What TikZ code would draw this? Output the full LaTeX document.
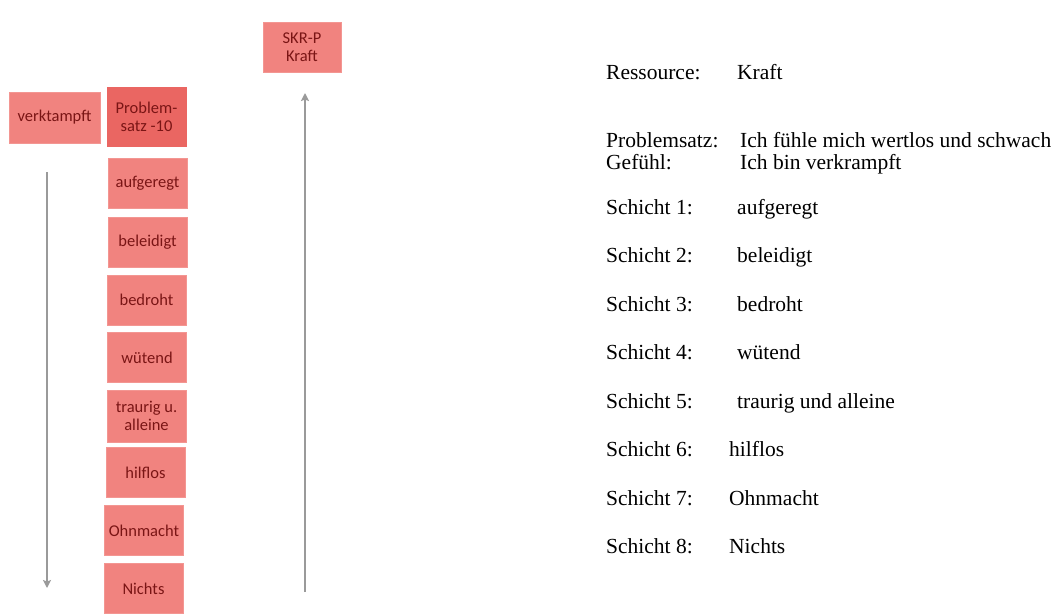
\documentclass[tikz,border=0pt]{standalone}
\usepackage{fontspec}
\setmainfont{Liberation Serif}
\newfontfamily\boxfont{Carlito}
\usetikzlibrary{arrows.meta}
\definecolor{boxfill}{HTML}{F1837F}
\definecolor{probfill}{HTML}{EA6662}
\definecolor{boxtext}{HTML}{7A1515}
\definecolor{arrowgray}{HTML}{9A9A9A}
\tikzset{
  layer/.style={fill=boxfill, draw=boxfill!85!white, line width=0.6pt, inner sep=1pt,
    minimum width=79pt, minimum height=50pt, align=center, text=boxtext,
    font=\boxfont\fontsize{16.5}{18}\selectfont},
  info/.style={anchor=base west, inner sep=0pt, font=\fontsize{21.5}{24}\selectfont},
  flow/.style={draw=arrowgray, line width=2pt, -{Stealth[length=8pt,width=8pt,inset=1.5pt]}}
}
\begin{document}
\begin{tikzpicture}[x=1pt,y=-1pt]
\useasboundingbox (0,0) rectangle (1063,614);
% left column
\node[layer, minimum width=91pt, minimum height=51pt] (verk) at (54.5,117.5) {verktampft};
\node[layer, fill=probfill, draw=probfill, minimum height=59pt] (prob) at (146.5,116.5) {Problem-\\satz -10};
\fill[white] ([xshift=-12pt]prob.north) -- ([xshift=12pt]prob.north) -- ([yshift=10pt]prob.north) -- cycle;
\node[layer] (s1) at (147.5,183) {aufgeregt};
\node[layer] (s2) at (147.5,242.5) {beleidigt};
\node[layer] (s3) at (146.5,300) {bedroht};
\node[layer] (s4) at (147,357.5) {wütend};
\node[layer, minimum height=52pt] (s5) at (146.5,416) {traurig u.\\alleine};
\node[layer] (s6) at (145.5,472.5) {hilflos};
\node[layer] (s7) at (144,530.5) {Ohnmacht};
\node[layer] (s8) at (143.5,588.5) {Nichts};
\node[layer, minimum width=78pt] (skr) at (302,47) {SKR-P\\Kraft};
% arrows
\coordinate (dtop) at (47,172);
\coordinate (dbot) at (47,588);
\coordinate (utop) at (305,93);
\coordinate (ubot) at (305,592);
\draw[flow] (dtop) -- (dbot);
\draw[flow] (ubot) -- (utop);
% right text
\node[info] (rl) at (606,79) {Ressource:};
\node[info] (rv) at (737,79) {Kraft};
\node[info] (pl) at (606,147) {Problemsatz:};
\node[info] (pv) at (740,147) {Ich fühle mich wertlos und schwach};
\node[info] (gl) at (606,169) {Gefühl:};
\node[info] (gv) at (740,169) {Ich bin verkrampft};
\node[info] (l1) at (606,214) {Schicht 1:};
\node[info] (v1) at (737,214) {aufgeregt};
\node[info] (l2) at (606,262.5) {Schicht 2:};
\node[info] (v2) at (737,262.5) {beleidigt};
\node[info] (l3) at (606,311) {Schicht 3:};
\node[info] (v3) at (737,311) {bedroht};
\node[info] (l4) at (606,359.5) {Schicht 4:};
\node[info] (v4) at (737,359.5) {wütend};
\node[info] (l5) at (606,408) {Schicht 5:};
\node[info] (v5) at (737,408) {traurig und alleine};
\node[info] (l6) at (606,456.5) {Schicht 6:};
\node[info] (v6) at (729,456.5) {hilflos};
\node[info] (l7) at (606,505) {Schicht 7:};
\node[info] (v7) at (729,505) {Ohnmacht};
\node[info] (l8) at (606,553.5) {Schicht 8:};
\node[info] (v8) at (729,553.5) {Nichts};
\end{tikzpicture}
\end{document}
